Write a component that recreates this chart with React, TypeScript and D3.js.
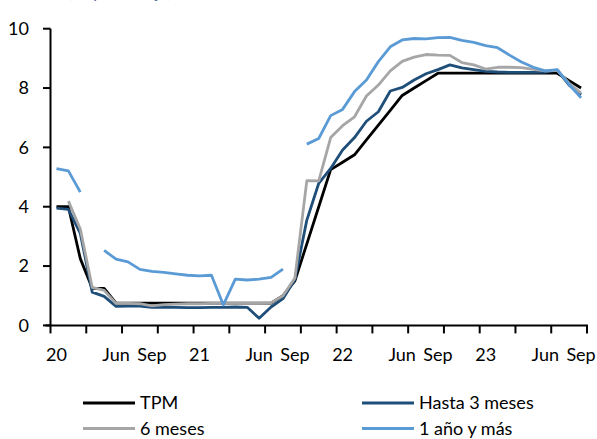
import React from "react";
import * as d3 from "d3";

const W = 597;
const H = 439;

// Monthly categories Jan-2020 .. Sep-2023 (45 months)
const monthLabels: string[] = [
  "20", "", "", "", "", "Jun", "", "", "Sep", "", "", "",
  "21", "", "", "", "", "Jun", "", "", "Sep", "", "", "",
  "22", "", "", "", "", "Jun", "", "", "Sep", "", "", "",
  "23", "", "", "", "", "Jun", "", "", "Sep",
];

const tpm: (number | null)[] = [
  4.0, 4.0, 2.25, 1.25, 1.25, 0.75, 0.75, 0.75, 0.75, 0.75, 0.75, 0.75,
  0.75, 0.75, 0.75, 0.75, 0.75, 0.75, 0.75, 1.0, 1.5, 2.75, 4.0, 5.25,
  5.5, 5.75, 6.25, 6.75, 7.25, 7.75, 8.0, 8.25, 8.5, 8.5, 8.5, 8.5,
  8.5, 8.5, 8.5, 8.5, 8.5, 8.5, 8.5, 8.25, 8.0,
];

const hasta3: (number | null)[] = [
  3.95, 3.91, 3.1, 1.12, 0.98, 0.64, 0.65, 0.65, 0.61, 0.62, 0.61, 0.6,
  0.6, 0.61, 0.61, 0.62, 0.61, 0.24, 0.62, 0.9, 1.55, 3.55, 4.79, 5.29,
  5.91, 6.33, 6.88, 7.2, 7.9, 8.02, 8.27, 8.48, 8.62, 8.78, 8.68, 8.62,
  8.56, 8.54, 8.53, 8.53, 8.53, 8.54, 8.6, 8.1, 7.77,
];

const seis: (number | null)[] = [
  null, 4.19, 3.25, 1.28, 1.18, 0.74, 0.74, 0.73, 0.66, 0.7, 0.72, 0.73,
  0.73, 0.74, 0.74, 0.74, 0.74, 0.74, 0.76, 1.0, 1.6, 4.88, 4.87, 6.33,
  6.73, 7.03, 7.73, 8.1, 8.58, 8.9, 9.04, 9.13, 9.11, 9.1, 8.86, 8.78,
  8.64, 8.7, 8.7, 8.69, 8.63, 8.58, 8.6, 8.16, 7.83,
];

const unAno: (number | null)[] = [
  5.28, 5.21, 4.49, null, 2.53, 2.23, 2.14, 1.89, 1.82, 1.79, 1.74, 1.69,
  1.67, 1.69, 0.69, 1.56, 1.53, 1.56, 1.62, 1.9, null, 6.11, 6.3, 7.07,
  7.28, 7.88, 8.27, 8.89, 9.39, 9.62, 9.67, 9.66, 9.7, 9.71, 9.61, 9.54,
  9.43, 9.36, 9.11, 8.88, 8.7, 8.58, 8.62, 8.12, 7.67,
];

const yTicks = [0, 2, 4, 6, 8, 10];

const seriesNames = ["TPM", "Hasta 3 meses", "6 meses", "1 año y más"];
const seriesData = [tpm, hasta3, seis, unAno];
const seriesColors = ["#000000", "#1F4E79", "#A6A6A6", "#5B9BD5"];

const FONT = "Lato, 'Open Sans', sans-serif";

export default function App() {
  const idx = d3.range(monthLabels.length);
  const x = d3.scaleBand<number>().domain(idx).range([50.5, 587]).padding(0);
  const bw = x.bandwidth();
  const cx = (i: number) => (x(i) as number) + bw / 2;
  const y = d3.scaleLinear().domain([0, 10]).range([325.4, 28.7]);

  const line = d3
    .line<number | null>()
    .defined((d) => d != null)
    .x((_, i) => cx(i))
    .y((d) => y(d as number));

  const tickIdx = d3.range(0, monthLabels.length + 1, 3);
  const x0 = 50.5;
  const x1 = 587;
  const yAxisY = y(0);

  const legendItems = [
    { name: seriesNames[0], color: seriesColors[0], lx: 83, ly: 403 },
    { name: seriesNames[1], color: seriesColors[1], lx: 362, ly: 403 },
    { name: seriesNames[2], color: seriesColors[2], lx: 83, ly: 428.5 },
    { name: seriesNames[3], color: seriesColors[3], lx: 362, ly: 428.5 },
  ];

  return (
    <svg
      width={W}
      height={H}
      style={{ position: "absolute", left: 0, top: 0, background: "#fff" }}
      fontFamily={FONT}
    >
      <rect x={0} y={0} width={W} height={H} fill="#fff" />
      <text x={68} y={-2.5} fontSize={16} fill="#4F6D9A">
        (en porcentaje)
      </text>

      {/* series */}
      {seriesData.map((s, k) => (
        <path
          key={k}
          d={line(s) || ""}
          fill="none"
          stroke={seriesColors[k]}
          strokeWidth={2.8}
          strokeLinejoin="round"
        />
      ))}

      {/* y axis */}
      <line x1={x0} x2={x0} y1={y(10)} y2={yAxisY} stroke="#000" strokeWidth={2} />
      {yTicks.map((t) => (
        <g key={t}>
          <line x1={x0 - 7.5} x2={x0} y1={y(t)} y2={y(t)} stroke="#000" strokeWidth={2} />
          <text
            x={29}
            y={y(t)}
            dy="0.35em"
            textAnchor="end"
            fontSize={18}
            fill="#000"
          >
            {t}
          </text>
        </g>
      ))}

      {/* x axis */}
      <line x1={x0 - 5} x2={x1 + 1} y1={yAxisY} y2={yAxisY} stroke="#000" strokeWidth={2} />
      {tickIdx.map((i) => {
        const px = i < monthLabels.length ? (x(i) as number) : x1;
        return (
          <line key={i} x1={px} x2={px} y1={yAxisY} y2={yAxisY + 8} stroke="#000" strokeWidth={2} />
        );
      })}
      {monthLabels.map((l, i) =>
        l ? (
          <text key={i} x={cx(i)} y={361} textAnchor="middle" fontSize={18} fill="#000">
            {l}
          </text>
        ) : null
      )}

      {/* legend */}
      {legendItems.map((it) => (
        <g key={it.name}>
          <line
            x1={it.lx}
            x2={it.lx + 52}
            y1={it.ly}
            y2={it.ly}
            stroke={it.color}
            strokeWidth={3}
          />
          <text x={it.lx + 57} y={it.ly} dy="0.35em" fontSize={18} fill="#000">
            {it.name}
          </text>
        </g>
      ))}
    </svg>
  );
}
